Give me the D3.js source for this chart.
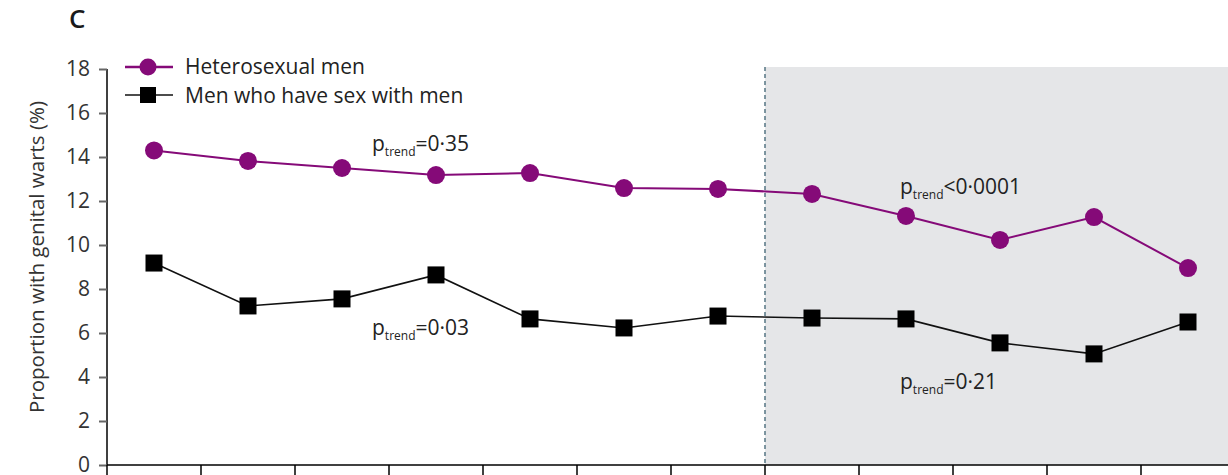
<!DOCTYPE html>
<html><head><meta charset="utf-8">
<script src="https://cdn.jsdelivr.net/npm/d3@7"></script>
<style>
html,body{margin:0;padding:0;background:#fff;}
svg{display:block;font-family:"Open Sans",sans-serif;}
</style></head>
<body>
<svg id="c" width="1228" height="475"></svg>
<script>
const categories = ["2004","2005","2006","2007","2008","2009","2010","2011","2012","2013","2014","2015"];
const heterosexualMen = [14.3, 13.82, 13.5, 13.18, 13.27, 12.59, 12.55, 12.32, 11.32, 10.23, 11.27, 8.95];
const msm = [9.18, 7.23, 7.55, 8.64, 6.64, 6.23, 6.77, 6.68, 6.64, 5.55, 5.05, 6.5];
const yTicks = [0,2,4,6,8,10,12,14,16,18];
const shadeFrom = "2011";
const annotations = [
  {cat:"2004", val:14.3, op:"=", text:"0·35"},
  {cat:"2004", val:9.18, op:"=", text:"0·03"},
  {cat:"2011", val:12.32, op:"<", text:"0·0001"},
  {cat:"2011", val:6.68, op:"=", text:"0·21"}
];

const svg = d3.select("#c");
const leftX = 107, bottomY = 465, topY = 69;
const x = d3.scaleBand().domain(categories).range([leftX, leftX + 12*94.0]);
const y = d3.scaleLinear().domain([0,18]).range([bottomY, topY]);

// shaded region
const sx = x(shadeFrom);
svg.append("rect").attr("x", sx).attr("y", topY-2).attr("width", 1228-sx).attr("height", bottomY-topY+2).attr("fill","#e5e6e8");
svg.append("line").attr("x1", sx).attr("x2", sx).attr("y1", topY-2).attr("y2", bottomY)
  .attr("stroke","#5f7d8a").attr("stroke-width",1.6).attr("stroke-dasharray","4,3");

// y axis
const yAxis = d3.axisLeft(y).tickValues(yTicks).tickSize(8).tickPadding(9).tickFormat(d3.format("d"));
const gy = svg.append("g").attr("transform",`translate(${leftX},0)`).call(yAxis);
gy.select(".domain").attr("stroke","#000").attr("stroke-width",1.5).attr("d",`M0,${bottomY}V${topY}`);
gy.selectAll(".tick line").attr("stroke","#666").attr("stroke-width",2);
gy.selectAll(".tick text").attr("font-size",21).attr("fill","#333").attr("font-family","'Open Sans',sans-serif");

// x axis
const gx = svg.append("g").attr("transform",`translate(0,${bottomY})`);
gx.append("line").attr("x1",leftX).attr("x2",1228).attr("stroke","#000").attr("stroke-width",1.5);
gx.selectAll("line.t").data(categories.slice(1)).join("line").attr("class","t")
  .attr("x1",d=>x(d)).attr("x2",d=>x(d)).attr("y1",0).attr("y2",12).attr("stroke","#000").attr("stroke-width",1.5);
gx.append("line").attr("x1",leftX).attr("x2",leftX).attr("y1",0).attr("y2",12).attr("stroke","#000").attr("stroke-width",1.5);

// y label
svg.append("text").attr("transform",`translate(44,257) rotate(-90)`).attr("text-anchor","middle")
  .attr("font-size",20.5).attr("fill","#333").text("Proportion with genital warts (%)");

// panel letter
svg.append("text").attr("x",69).attr("y",28).attr("font-size",26).attr("font-weight",600).attr("fill","#1a1a1a").text("C");

const cx = d => x(d) + x.bandwidth()/2;
const line = d3.line().x((d,i)=>cx(categories[i])).y(d=>y(d));

// hetero
svg.append("path").datum(heterosexualMen).attr("d",line).attr("fill","none").attr("stroke","#850a78").attr("stroke-width",2);
svg.selectAll("circle.h").data(heterosexualMen).join("circle").attr("class","h")
  .attr("cx",(d,i)=>cx(categories[i])).attr("cy",d=>y(d)).attr("r",9).attr("fill","#850a78");
// msm
svg.append("path").datum(msm).attr("d",line).attr("fill","none").attr("stroke","#111").attr("stroke-width",1.6);
svg.selectAll("rect.m").data(msm).join("rect").attr("class","m")
  .attr("x",(d,i)=>cx(categories[i])-8.5).attr("y",d=>y(d)-8.5).attr("width",17).attr("height",17).attr("fill","#000");

// legend
const lg = svg.append("g");
lg.append("line").attr("x1",125).attr("x2",173).attr("y1",67).attr("y2",67).attr("stroke","#850a78").attr("stroke-width",2.5);
lg.append("circle").attr("cx",148).attr("cy",67).attr("r",8.5).attr("fill","#850a78");
lg.append("text").attr("x",185).attr("y",74).attr("font-size",21).attr("fill","#222").text("Heterosexual men");
lg.append("line").attr("x1",125).attr("x2",173).attr("y1",95).attr("y2",95).attr("stroke","#111").attr("stroke-width",1.6);
lg.append("rect").attr("x",140).attr("y",87).attr("width",16).attr("height",16).attr("fill","#000");
lg.append("text").attr("x",185).attr("y",103).attr("font-size",21).attr("fill","#222").text("Men who have sex with men");

// annotations
const annPos = [[372,151],[372,335],[900,194],[900,389]];
annotations.forEach((a,i)=>{
  const t = svg.append("text").attr("x",annPos[i][0]).attr("y",annPos[i][1]).attr("font-size",21).attr("fill","#222");
  t.append("tspan").text("p");
  t.append("tspan").attr("font-size",12).attr("dy",5).text("trend");
  t.append("tspan").attr("dy",-5).text(a.op + a.text);
});
</script>
</body></html>
